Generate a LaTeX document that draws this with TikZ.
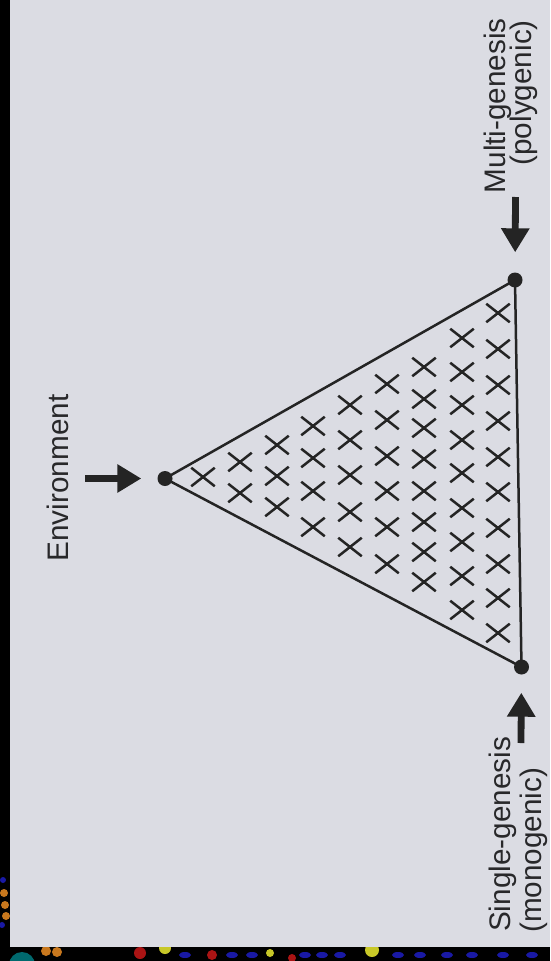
\documentclass[tikz,border=0pt]{standalone}
\usepackage{fontspec}
\setmainfont{Liberation Sans}
\usetikzlibrary{arrows.meta,shapes.misc}
\definecolor{bg}{RGB}{219,220,227}
\definecolor{ink}{RGB}{36,36,36}
\definecolor{txt}{RGB}{40,40,42}
\definecolor{balltealc}{RGB}{0,105,110}
\definecolor{ballorange}{RGB}{200,120,30}
\definecolor{ballred}{RGB}{170,20,20}
\definecolor{ballyellow}{RGB}{200,200,40}
\definecolor{ballblue}{RGB}{25,25,165}
\begin{document}
\begin{tikzpicture}[x=1pt,y=-1pt,
  lbl/.style={font=\fontsize{29.7}{30}\selectfont, text=txt, inner sep=0pt, rotate=90},
  vdot/.style={circle, fill=ink, minimum size=15pt, inner sep=0pt},
  xm/.style={cross out, draw=ink, line width=2.5pt, minimum width=21pt, minimum height=16pt, inner sep=0pt},
  edgeline/.style={draw=ink, line width=2.5pt, line join=miter},
  bigarrow/.style={draw=ink, line width=6.8pt, -{Triangle[length=24pt,width=27pt]}},
]
\useasboundingbox (0,0) rectangle (550,961);
\fill[bg] (0,0) rectangle (550,961);

% black borders of the scan with molecule fragments
\fill[black] (0,0) rectangle (10,961);
\fill[black] (0,947) rectangle (550,961);
\begin{scope}
  \clip (0,0) rectangle (10,961) (0,947) rectangle (550,961);
  \fill[balltealc] (22,965) circle (13);
  \fill[ballorange] (4,893) circle (4) (5,905) circle (4) (6,916) circle (4)
                    (46,951) circle (5) (57,952) circle (5);
  \fill[ballblue] (3,880) circle (3) (2,925) circle (3);
  \fill[ballred] (140,953) circle (6) (212,955) circle (5) (292,958) circle (4);
  \fill[ballyellow] (165,948) circle (6) (372,950) circle (7) (270,953) circle (4);
  \foreach \bx in {185,232,252,305,322,340,398,420,447,472,503,532}
    \fill[ballblue] (\bx,955) ellipse (6 and 3);
\end{scope}

% vertices
\node[vdot] (apex) at (165,478.5) {};
\node[vdot] (tr) at (515,280) {};
\node[vdot] (br) at (521.5,667) {};
\draw[edgeline] (apex.center) -- (tr.center) -- (br.center) -- cycle;

% crosses
\foreach \cx/\ys [count=\c] in {
  203/{477},
  240/{462,493},
  277/{445,476,507},
  313/{426,458,491,527},
  350/{405,440,475,512,547},
  387/{384,420,456,491,527,564},
  424/{367,399,428,459,491,522,552,582},
  462/{338,372,405,440,473,508,542,576,610},
  498/{313,349,385,421,457,492,528,564,598,633}}
{
  \foreach \yy [count=\r] in \ys {
    \node[xm] (x\c-\r) at (\cx,\yy) {};
  }
}

% labels
\node[lbl, anchor=base] (env) at (68,478) {Environment};
\node[lbl, anchor=base east] (multi1) at (505,18) {Multi-genesis};
\node[lbl, anchor=base east] (multi2) at (531,20) {(polygenic)};
\node[lbl, anchor=base west] (single1) at (510,932) {Single-genesis};
\node[lbl, anchor=base west] (single2) at (541,933) {(monogenic)};

% arrows
\coordinate (envtail) at (85,478.5);
\coordinate (multitail) at (515.5,197);
\coordinate (singletail) at (521,743);
\draw[bigarrow, shorten >=16pt] (envtail) -- (apex);
\draw[bigarrow, shorten >=20pt] (multitail) -- (tr);
\draw[bigarrow, shorten >=18pt] (singletail) -- (br);
\end{tikzpicture}
\end{document}
